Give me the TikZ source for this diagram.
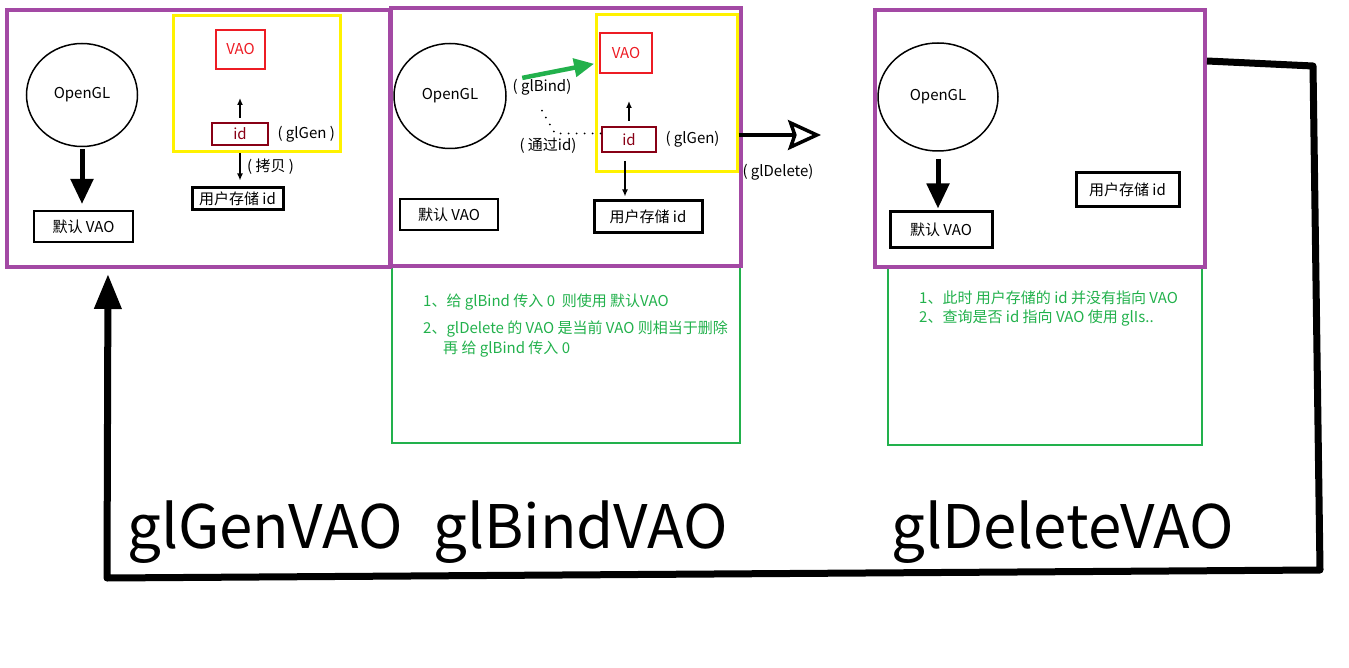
\documentclass[tikz,border=0pt]{standalone}
\usepackage{fontspec}
\setmainfont{Noto Sans CJK SC}
\usetikzlibrary{arrows.meta,positioning,shapes.geometric}

\definecolor{vaopurple}{HTML}{A349A4}
\definecolor{notegreen}{HTML}{22B14C}
\definecolor{genyellow}{HTML}{FFF200}
\definecolor{vaored}{HTML}{ED1C24}
\definecolor{iddark}{HTML}{880015}

\tikzset{
    panel/.style={draw=vaopurple, line width=4pt, inner sep=0pt},
    notebox/.style={draw=notegreen, line width=2.5pt, inner sep=0pt},
    genbox/.style={draw=genyellow, line width=3pt, inner sep=0pt},
    vaobox/.style={draw=vaored, text=vaored, line width=2pt, inner sep=0pt},
    idbox/.style={draw=iddark, text=iddark, line width=2pt, inner sep=0pt},
    plainbox/.style={draw, line width=2pt, inner sep=0pt},
    heavybox/.style={draw, line width=3pt, inner sep=0pt},
    glcore/.style={draw, ellipse, line width=1.5pt, inner sep=0pt},
    fatarrow/.style={line width=5pt, -{Triangle[length=25pt,width=22pt]}},
    thinarrow/.style={line width=1.5pt, -{Latex[length=7pt,width=6pt]}},
    notetext/.style={text=notegreen, anchor=base west, inner sep=0pt},
    bigtitle/.style={anchor=base west, inner sep=0pt, font=\fontsize{60}{72}\selectfont},
}

\begin{document}
\begin{tikzpicture}[x=1pt, y=-1pt, font=\fontsize{15}{18}\selectfont]
    \useasboundingbox (0,0) rectangle (1349,668);

    \node[notebox, minimum width=348, minimum height=177] (note1) at (566,354.5) {};
    \node[notebox, minimum width=314, minimum height=179] (note2) at (1045,355.5) {};

    \node[panel, minimum width=383, minimum height=257] (genpanel) at (198.5,138.5) {};
    \node[panel, minimum width=350, minimum height=258] (bindpanel) at (566,137) {};
    \node[panel, minimum width=330, minimum height=257] (delpanel) at (1040,138.5) {};

    \node[genbox, minimum width=167, minimum height=136] (gen1) at (256.5,84) {};
    \node[genbox, minimum width=141, minimum height=157] (gen2) at (666.5,93.5) {};

    \node[glcore, minimum width=111, minimum height=103] (gl1) at (82,95) {OpenGL};
    \node[glcore, minimum width=112, minimum height=105] (gl2) at (450,96) {OpenGL};
    \node[glcore, minimum width=120, minimum height=108] (gl3) at (938,97) {OpenGL};

    \node[vaobox, minimum width=49, minimum height=39] (vao1) at (240.5,49.5) {VAO};
    \node[vaobox, minimum width=52, minimum height=40] (vao2) at (626,53) {VAO};
    \node[idbox, minimum width=56, minimum height=22] (id1) at (240,134) {id};
    \node[idbox, minimum width=54, minimum height=25] (id2) at (629,139.5) {id};
    \node[right=5pt of id1] (gen1lbl) {( glGen )};
    \node[right=5pt of id2] (gen2lbl) {( glGen)};

    \node[heavybox, minimum width=91, minimum height=22] (user1) at (237.5,199) {用户存储 id};
    \node[heavybox, minimum width=108, minimum height=32] (user2) at (648,217) {用户存储 id};
    \node[heavybox, minimum width=103, minimum height=34] (user3) at (1127.5,190) {用户存储 id};

    \node[plainbox, minimum width=99, minimum height=31] (default1) at (83.5,226.5) {默认 VAO};
    \node[plainbox, minimum width=98, minimum height=31] (default2) at (449,214.5) {默认 VAO};
    \node[heavybox, minimum width=102, minimum height=36] (default3) at (941,230) {默认 VAO};

    \draw[fatarrow, shorten <=2pt, shorten >=6pt] (gl1.south) -- (gl1.south |- default1.north);
    \draw[fatarrow, shorten <=7pt, shorten >=2pt] (gl3.south) -- (gl3.south |- default3.north);

    \draw[thinarrow, shorten <=4pt, shorten >=28pt] (id1.north) -- (id1.north |- vao1.south);
    \draw[thinarrow, shorten <=7pt, shorten >=6pt] (id1.south) -- (id1.south |- user1.north) node[midway, right=3pt] (copylbl) {( 拷贝 )};
    \draw[thinarrow, shorten <=5pt, shorten >=27pt] (id2.north) -- (id2.north |- vao2.south);
    \draw[thinarrow, shorten <=8pt, shorten >=3pt] ([xshift=-4pt]id2.south) -- ([xshift=-4pt]id2.south |- user2.north);

    \draw[notegreen, line width=4.5pt, shorten <=18pt, shorten >=5pt, -{Triangle[length=20pt,width=18pt]}] (gl2.15) -- (vao2.200);
    \node (bindlbl) at (542,87) {( glBind)};
    \draw[line width=2pt, line cap=round, dash pattern=on 0pt off 8pt] ([yshift=-12pt]bindlbl.south) -- ([xshift=-46pt,yshift=6pt]id2.west) -- ([yshift=6pt]id2.west);
    \node (vialbl) at (548,146) {( 通过id)};

    \coordinate (deltip) at (821,135);
    \draw[line width=3.5pt, -{Stealth[open, length=33pt, width=30pt, inset=5pt]}] (gen2.east |- deltip) -- (deltip);
    \node (dellbl) at (778,172) {( glDelete)};

    \node[notetext] (note1a) at (423,306) {1、给 glBind 传入 0\ \ 则使用 默认VAO};
    \node[notetext] (note1b) at (423,334) {2、glDelete 的 VAO 是当前 VAO 则相当于删除};
    \node[notetext] (note1c) at (443,353) {再 给 glBind 传入 0};
    \node[notetext] (note2a) at (919,304) {1、此时 用户存储的 id 并没有指向 VAO};
    \node[notetext] (note2b) at (919,323) {2、查询是否 id 指向 VAO 使用 glIs..};

    \node[bigtitle] (gentitle) at (127,548) {glGenVAO};
    \node[bigtitle] (bindtitle) at (433,548) {glBindVAO};
    \node[bigtitle] (deltitle) at (891,548) {glDeleteVAO};

    \draw[line width=7pt, line join=round, shorten >=5pt, -{Triangle[length=35pt,width=26pt]}]
        ([yshift=-53pt]delpanel.north east) -- (1313,66) -- (1320,570) -- (107,578) -- ([xshift=103pt]genpanel.south west);
\end{tikzpicture}
\end{document}
